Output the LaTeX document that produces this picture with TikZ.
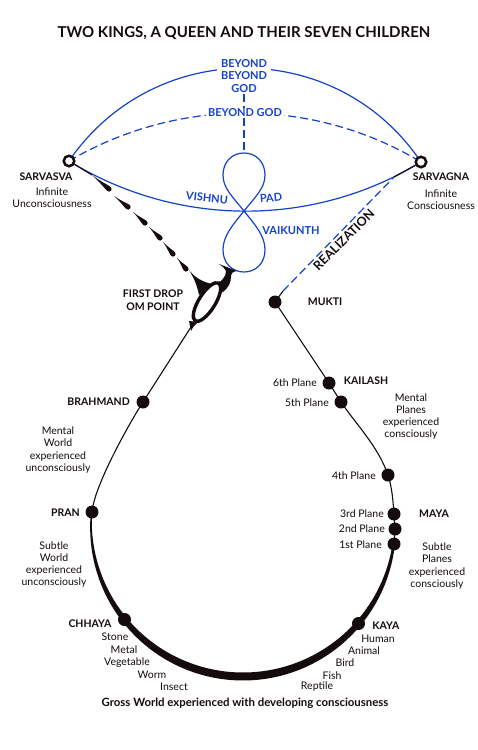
\documentclass[tikz,border=0pt]{standalone}
\usepackage{fontspec}
\setmainfont{Lato}
\usetikzlibrary{shapes.geometric}
\definecolor{bl}{RGB}{20,66,205}
\definecolor{ink}{RGB}{20,12,12}
\pgfdeclarelayer{bg}
\pgfsetlayers{bg,main}
\begin{document}
\begin{tikzpicture}[x=1pt,y=-1pt,
  declare function={tk(\a)=1.6+6.4*max(0,sin(\a));},
  dot/.style={circle,fill=ink,inner sep=0pt,minimum size=13pt},
  ring/.style={circle,draw=ink,line width=2.5pt,fill=white,inner sep=0pt,minimum size=10.5pt},
  lbl/.style={font=\fontsize{10.5}{12.2}\selectfont,inner sep=1pt,align=center,text=ink},
  blbl/.style={font=\fontsize{10.5}{13}\selectfont\bfseries,inner sep=1pt,align=center,text=ink},
  btxt/.style={font=\fontsize{11}{12.5}\selectfont\bfseries,text=bl,inner sep=1pt,align=center},
  bline/.style={draw=bl,line width=1.2pt},
  bdash/.style={draw=bl,line width=1.2pt,dash pattern=on 8pt off 4pt},
  kline/.style={draw=ink,line width=1.1pt},
]
\useasboundingbox (0,0) rectangle (478,750);

% ---------- nodes ----------
\node[font=\fontsize{15}{16}\selectfont\bfseries,text=ink] (title) at (244,33) {TWO KINGS, A QUEEN AND THEIR SEVEN CHILDREN};

\node[ring] (sarvasva) at (69,161) {};
\node[ring] (sarvagna) at (421,162) {};
\node[blbl] (sarvasvat) at (46,177) {SARVASVA};
\node[lbl] (sarvasvad) at (52,198) {Infinite\\Unconsciousness};
\node[blbl] (sarvagnat) at (441,177) {SARVAGNA};
\node[lbl] (sarvagnad) at (441,199.5) {Infinite\\Consciousness};

\node[btxt,fill=white,inner xsep=4pt] (bbg) at (244,76) {BEYOND\\BEYOND\\GOD};
\node[btxt,fill=white,inner xsep=2pt] (bgod) at (245,113) {BEYOND GOD};
\node[btxt,rotate=-6] (vishnu) at (207,198) {VISHNU};
\node[btxt,rotate=5] (pad) at (271,198) {PAD};
\node[btxt] (vaikunth) at (291,231) {VAIKUNTH};
\node[font=\fontsize{12.5}{12.5}\selectfont\bfseries,text=ink,rotate=45,anchor=north,inner sep=0.5pt] (real) at (340,236) {REALIZATION};

\node[blbl] (fdrop) at (153,300.5) {FIRST DROP\\OM POINT};
\node[ellipse,draw=ink,line width=3.4pt,fill=white,minimum width=44.5pt,minimum height=16.5pt,inner sep=0pt,rotate=58] (om) at (207,302) {};

\node[dot] (mukti) at (275,302) {};
\node[dot] (p6) at (329,383) {};
\node[dot] (p5) at (341,402) {};
\node[dot] (p4) at (388,475) {};
\node[dot] (p3) at (394,514) {};
\node[dot] (p2) at (395,529) {};
\node[dot] (p1) at (394,544) {};
\node[dot] (kaya) at (358.5,623.5) {};
\node[dot] (chhaya) at (124.5,619.5) {};
\node[dot] (pran) at (92,512) {};
\node[dot] (brahmand) at (143,402) {};

% left labels
\node[blbl,anchor=east] (brahmandt) at (131,402) {BRAHMAND};
\node[lbl] (mw) at (58,450) {Mental\\World\\experienced\\unconsciously};
\node[blbl,anchor=east] (prant) at (81,513) {PRAN};
\node[lbl] (sw) at (54,564.5) {Subtle\\World\\experienced\\unconsciously};
\node[blbl] (chhayat) at (90,624) {CHHAYA};
\node[lbl] (stone) at (115,637) {Stone};
\node[lbl] (metal) at (124,650) {Metal};
\node[lbl] (veg) at (127,663) {Vegetable};
\node[lbl] (worm) at (152,675) {Worm};
\node[lbl] (insect) at (174,687) {Insect};

% right labels
\node[blbl] (muktit) at (325,302) {MUKTI};
\node[blbl] (kailash) at (366,381) {KAILASH};
\node[lbl,anchor=east] (l6) at (318,383) {6th Plane};
\node[lbl,anchor=east] (l5) at (330,403) {5th Plane};
\node[lbl] (mp) at (411,416.5) {Mental\\Planes\\experienced\\consciously};
\node[lbl,anchor=east] (l4) at (377,476) {4th Plane};
\node[lbl,anchor=east] (l3) at (385,514) {3rd Plane};
\node[blbl] (maya) at (434,514) {MAYA};
\node[lbl,anchor=east] (l2) at (386,529) {2nd Plane};
\node[lbl,anchor=east] (l1) at (383,545) {1st Plane};
\node[lbl] (sp) at (437,566) {Subtle\\Planes\\experienced\\consciously};
\node[blbl] (kayat) at (386,626) {KAYA};
\node[lbl] (human) at (378,639) {Human};
\node[lbl] (animal) at (364,651) {Animal};
\node[lbl] (bird) at (345,663) {Bird};
\node[lbl] (fish) at (332,676) {Fish};
\node[lbl] (reptile) at (317,687) {Reptile};

\node[font=\fontsize{11.4}{12}\selectfont\bfseries,text=ink] (gross) at (245,703) {Gross World experienced with developing consciousness};

% ---------- connectors and shapes ----------
\begin{pgfonlayer}{bg}
\fill[white] (0,0) rectangle (478,750);

% blue arcs
\draw[bline] (sarvasva.center) .. controls (154,37) and (337,37) .. (sarvagna.center);
\draw[bdash] (sarvasva.center) .. controls (178,97) and (313,97) .. (sarvagna.center);
\draw[bline] (sarvasva.center) .. controls (177.5,227.7) and (313.5,227.7) .. (sarvagna.center);

% figure eight
\coordinate (eighttop) at (244,153);
\coordinate (cross) at (244,211);
\draw[bdash] (bbg.south) -- (eighttop);
\draw[bline] (cross) .. controls (256,196) and (265,188) .. (265,175)
  .. controls (265,162) and (256,153) .. (eighttop)
  .. controls (232,153) and (223,162) .. (223,175)
  .. controls (223,188) and (232,196) .. (cross)
  .. controls (256,226) and (265,236) .. (265,250)
  .. controls (265,263) and (256,272) .. (244,272)
  .. controls (232,272) and (223,263) .. (223,250)
  .. controls (223,236) and (232,226) .. (cross);

% neck between figure eight and om point
\fill[ink] (214,286) .. controls (222,281) and (226,277) .. (226,271)
  .. controls (225,268) and (222,266) .. (219,264)
  -- (237,271)
  .. controls (233,271.5) and (231,273) .. (231,277)
  .. controls (231,283) and (228,288) .. (223,292) -- cycle;
% left spur
\fill[ink] (189,270) .. controls (195,278) and (203,282) .. (212,284)
  -- (199,295) .. controls (197,285) and (194,278) .. (189,270) -- cycle;
% bottom flare
\fill[ink] (189,321) -- (199,322) .. controls (195,324) and (193,327) .. (191,331) -- cycle;

% black teardrop dashes from sarvasva
\coordinate (td0) at (92,175);
\draw[kline] (sarvasva) -- (td0);
\foreach \tx/\ty/\hx/\hy in {92/175/109/189, 114/196/128/207, 133/212/145/223, 149/227/160/238, 163/242/173/254, 177/258/186/269}{
  \pgfmathsetmacro\ang{atan2(\ty-\hy,\hx-\tx)}
  \pgfmathsetmacro\len{veclen(\hx-\tx,\hy-\ty)}
  \pgfmathsetmacro\lb{0.45*\len}
  \fill[ink,shift={(\hx,\hy)},rotate=\ang] (-\len pt,0pt) .. controls (-\lb pt,0.6pt) and (-3pt,2.6pt) .. (0pt,2.6pt)
    .. controls (3.4pt,2.6pt) and (3.4pt,-2.6pt) .. (0pt,-2.6pt)
    .. controls (-3pt,-2.6pt) and (-\lb pt,-0.6pt) .. (-\len pt,0pt) -- cycle;
}

% realization line
\coordinate (rj) at (394,177);
\coordinate (mk) at (283,291);
\draw[kline] (sarvagna) -- (rj);
\draw[bdash] (mk) -- (rj);
\draw[kline] (mukti.center) -- (mk);

% thin black path
\draw[kline] (om) -- (brahmand.center);
\draw[kline] (brahmand.center) .. controls (127,427) and (94,487) .. (pran.center);
\draw[kline] (mukti.center) -- (p6.center) -- (p5.center)
  .. controls (355,423) and (378,446) .. (p4.center)
  .. controls (392,487) and (393,501) .. (p3.center) -- (p2.center) -- (p1.center);

% thick gross-world arc
\fill[ink] plot[domain=184.7:7.4,samples=120,variable=\t] ({243+(152+0.5*tk(\t))*cos(\t)},{524.5+(152+0.5*tk(\t))*sin(\t)})
  -- plot[domain=7.4:184.7,samples=120,variable=\t] ({243+(152-0.5*tk(\t))*cos(\t)},{524.5+(152-0.5*tk(\t))*sin(\t)}) -- cycle;
\end{pgfonlayer}
\end{tikzpicture}
\end{document}
